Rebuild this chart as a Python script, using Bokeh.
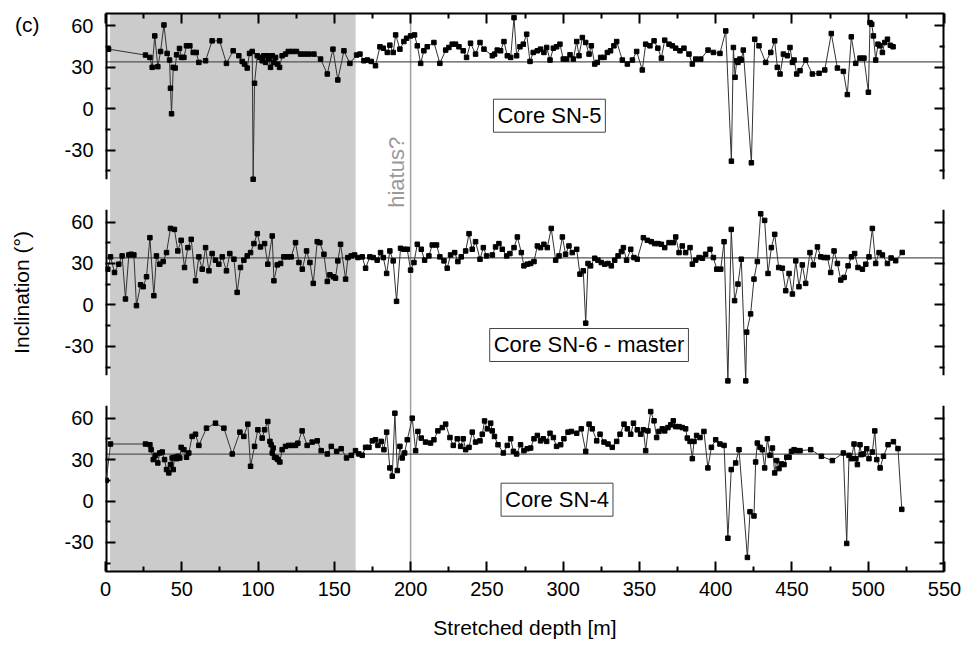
from bokeh.plotting import figure
from bokeh.models import (Range1d, LinearAxis, FixedTicker, BoxAnnotation, Span,
                          Label, CustomJSTickFormatter, CustomLabelingPolicy)
from bokeh.embed import file_html
from bokeh.resources import INLINE

# ---------------- data ----------------
depth_sn5 = [2.0, 26.2, 29.1, 30.6, 32.3, 34.3, 36.1, 38.3, 40.4, 42.0, 42.6, 43.3, 44.4, 45.7,
             46.6, 48.5, 49.8, 51.4, 53.1, 55.3, 57.5, 59.5, 61.2, 65.6, 69.9, 74.8, 79.3, 83.7,
             87.4, 89.6, 91.1, 92.9, 94.4, 96.2, 96.8, 97.7, 99.5, 101.2, 102.7, 103.8, 104.9,
             106.0, 107.1, 108.2, 109.3, 110.4, 111.5, 112.6, 114.1, 115.8, 118.0, 119.8, 122.4,
             125.2, 127.9, 130.5, 133.3, 136.6, 141.0, 145.4, 149.1, 152.3, 156.3, 160.2, 164.6,
             166.8, 169.4, 171.6, 174.2, 177.0, 179.9, 182.1, 184.7, 186.4, 188.6, 190.2, 193.0,
             195.6, 197.4, 200.0, 202.6, 204.4, 206.6, 208.7, 210.9, 215.3, 219.2, 223.0, 225.1,
             227.3, 229.5, 231.7, 234.5, 236.7, 239.3, 242.6, 245.5, 248.1,
             253.6, 255.1, 256.8, 259.0, 261.2, 263.4, 265.6, 267.8, 269.5, 271.7, 273.9, 276.1,
             278.3, 280.4, 283.1, 285.2, 287.4, 289.2, 291.4, 293.6, 295.7, 297.9, 300.1, 302.3,
             304.5, 306.7, 308.9, 310.4, 312.6, 314.8, 317.0, 318.5, 320.7, 322.4, 324.6, 326.8,
             329.0, 331.1, 333.3, 335.1, 338.8, 342.1, 345.4, 348.2, 351.9, 354.1, 356.9, 359.6,
             362.1, 364.4, 366.6, 369.4, 371.6, 373.8, 376.6, 379.2, 382.5, 384.7, 386.9, 390.2,
             395.0, 398.5, 402.8, 406.6, 410.3, 411.6, 412.7, 413.8, 414.6, 415.9, 416.8, 418.1,
             423.4, 425.6, 428.4, 432.8, 436.1, 438.7, 440.4, 442.2, 444.4, 447.0, 448.7, 450.3,
             451.4, 453.1, 455.3, 459.0, 463.4, 467.8, 471.5, 475.8, 479.8, 483.7, 486.3, 488.9,
             491.8, 494.6, 497.2, 500.1, 501.2, 502.3, 503.4, 504.9, 506.4, 507.7, 509.3, 510.8,
             512.6, 514.5, 516.3]
incl_sn5 = [43.2, 38.9, 37.2, 30.0, 52.8, 30.5, 41.5, 60.7, 40.1, 35.3, 14.9, -3.6, 30.0, 29.5,
            39.1, 43.7, 37.2, 37.2, 45.6, 45.6, 40.8, 40.8, 33.6, 34.8, 49.2, 49.2, 32.9, 42.0,
            38.4, 34.3, 32.4, 29.5, 40.1, 41.5, -51.0, 18.5, 38.4, 37.2, 34.8, 38.4, 33.6,
            38.4, 36.0, 30.0, 38.4, 33.6, 37.2, 32.4, 30.0, 38.4, 39.6, 41.5, 41.5,
            41.5, 39.6, 39.6, 39.6, 39.6, 36.0, 25.2, 43.2, 20.9, 42.0, 32.9, 38.9,
            39.6, 34.8, 35.3, 34.3, 31.2, 44.9, 43.9, 40.8, 46.1, 40.8, 53.5, 43.2,
            48.7, 51.1, 52.8, 53.5, 45.6, 32.9, 42.0, 44.9, 48.0, 32.9, 42.5, 44.4,
            46.8, 46.8, 44.9, 42.0, 37.2, 47.5, 39.6, 48.0, 43.2,
            38.4, 39.6, 42.5, 42.0, 48.7, 38.4, 37.2, 66.0, 38.4, 44.9, 46.8, 54.0,
            34.3, 40.8, 42.0, 43.2, 40.8, 44.4, 35.3, 43.9, 44.9, 46.8, 36.0, 36.0,
            39.1, 36.0, 48.7, 38.4, 51.6, 48.0, 39.6, 45.6, 32.4, 33.6, 37.2, 37.2,
            40.8, 42.0, 45.6, 48.7, 35.3, 32.4, 35.3, 41.5, 28.1, 46.8, 45.6, 49.2,
            43.9, 36.7, 49.7, 46.8, 45.6, 43.9, 42.0, 43.9, 39.6, 32.4, 36.0, 36.0,
            42.5, 40.8, 40.1, 56.4, -37.9, 44.4, 22.8, 34.8, 33.6, 36.0, 35.3, 42.5,
            -39.1, 50.4, 45.6, 33.6, 40.8, 49.2, 30.0, 25.2, 39.6, 38.4, 44.4, 33.6,
            35.3, 25.2, 27.6, 35.3, 25.2, 25.7, 28.1, 54.5, 29.5, 27.1, 10.3, 52.1,
            32.9, 36.7, 36.7, 12.0, 62.4, 61.2, 52.8, 35.3, 46.8, 45.6, 40.8, 48.0,
            50.4, 46.0, 44.9]

depth_sn6 = [1.5, 3.3, 5.9, 8.7, 10.9, 13.1, 15.3, 16.8, 18.6, 20.3, 23.0, 24.7, 26.9, 29.1,
             31.7, 33.4, 35.6, 37.8, 40.0, 42.6, 45.2, 47.4, 49.6, 51.8, 54.0, 56.2, 59.0, 61.2,
             63.4, 65.6, 67.8, 69.9, 72.1, 74.3, 76.5, 79.3, 81.5, 84.2, 86.3, 88.5, 90.7, 92.9,
             95.1, 97.3, 99.5, 101.6, 104.3, 106.4, 109.3, 110.4, 112.6, 114.8, 116.9, 119.1,
             121.7, 124.6, 126.8, 129.0, 131.8, 134.0, 136.2, 138.8, 140.5, 143.2, 145.4, 147.1,
             149.3, 150.8, 152.3, 154.1, 157.4, 158.9, 161.1, 163.3, 165.5, 168.3, 170.5, 173.3,
             175.5, 178.1, 180.3, 182.1, 184.3, 186.4, 188.6, 190.8, 193.4, 195.6, 197.8, 200.0,
             202.2, 204.4, 207.0, 209.2, 212.0, 214.2, 217.0, 219.2, 221.9, 224.0, 226.2, 228.9,
             231.0, 233.2, 236.1, 238.3, 240.4, 242.6, 245.5, 247.7, 249.8,
             253.6, 255.7, 257.9, 260.1, 263.0, 265.1, 267.8, 270.0, 272.6, 274.3, 276.5, 278.7,
             280.9, 283.1, 285.2, 287.4, 289.6, 292.2, 295.1, 297.3, 299.5, 301.6, 303.8, 306.0,
             308.9, 311.0, 313.2, 314.8, 316.3, 318.0, 320.7, 322.8, 325.0, 327.2, 329.4, 331.6,
             333.8, 336.0, 338.2, 339.5, 341.6, 344.3, 346.4, 348.6, 352.6, 355.2, 357.8, 360.0,
             362.2, 364.4, 366.6, 369.4, 372.2, 373.8, 376.0, 378.1, 380.3, 383.2, 384.7, 386.9,
             389.1, 391.3, 393.4, 396.3, 398.5, 400.7, 403.3, 405.5, 408.0, 410.2, 412.4, 414.6,
             416.8, 419.7, 420.3, 422.9, 425.1, 427.3, 429.5, 432.1, 434.3, 436.5, 438.7, 441.3,
             443.7, 445.9, 448.1, 450.3, 452.5, 454.6, 456.8, 459.0, 461.8, 464.0, 466.7, 468.9,
             471.0, 473.2, 475.4, 477.6, 479.8, 482.0, 484.2, 486.8, 489.0, 491.1, 493.3, 496.2,
             498.4, 500.5, 502.7, 504.9, 507.1, 509.3, 512.6, 515.0, 518.0, 522.3]
incl_sn6 = [25.9, 34.8, 23.5, 29.5, 35.5, 4.3, 36.2, 36.7, 36.2, -0.5, 14.6, 13.2, 20.4, 48.7,
            6.7, 35.5, 29.5, 31.4, 37.9, 55.4, 54.7, 39.1, 46.8, 27.1, 41.5, 47.5, 17.5, 34.8,
            25.9, 41.5, 24.7, 37.2, 32.4, 29.5, 34.8, 24.7, 37.2, 33.1, 9.1, 27.1, 32.4, 35.5,
            37.9, 44.4, 51.6, 42.0, 44.4, 29.5, 49.9, 17.5, 29.0, 30.0, 34.8, 34.8,
            34.8, 45.1, 30.7, 25.9, 39.1, 30.7, 15.6, 45.8, 45.1, 36.7, 17.0, 21.8,
            20.4, 19.4, 31.9, 43.9, 18.7, 34.3, 35.5, 36.2, 34.3, 34.8, 26.6, 34.8,
            34.3, 32.4, 37.9, 34.3, 22.8, 39.1, 31.9, 2.6, 41.0, 40.3, 40.3, 25.2,
            30.7, 43.9, 40.3, 32.4, 35.5, 43.4, 43.4, 34.8, 31.9, 26.6, 36.2, 37.9,
            31.4, 34.8, 39.1, 51.6, 40.3, 45.8, 33.1, 41.5, 35.5,
            36.2, 42.0, 44.4, 40.3, 35.5, 37.2, 41.5, 49.2, 37.9, 28.3, 29.5, 30.0,
            31.4, 42.7, 41.5, 43.9, 41.5, 55.4, 32.4, 35.5, 49.2, 36.7, 42.7, 37.9,
            40.3, 22.3, 24.7, -13.2, 30.0, 28.3, 33.8, 32.4, 30.7, 29.5, 30.0, 28.3,
            32.4, 35.5, 38.6, 41.5, 32.4, 40.3, 34.3, 33.1, 48.7, 46.8, 45.8, 44.4,
            44.4, 43.9, 41.5, 45.1, 45.1, 49.2, 37.9, 42.7, 37.9, 41.5, 29.5, 32.4,
            34.3, 33.8, 36.7, 40.3, 34.3, 25.9, 25.9, 45.8, -55.0, 54.7, 3.1, 15.1,
            33.1, -55.0, -19.7, -6.5, 18.7, 31.4, 66.0, 61.2, 22.8, 41.5, 51.1, 27.1,
            26.6, 10.3, 22.8, 7.9, 31.9, 13.2, 29.0, 15.6, 37.9, 29.0, 42.0, 34.8,
            34.3, 34.3, 23.5, 39.1, 30.0, 18.0, 19.9, 28.3, 34.8, 37.2, 27.1, 25.9,
            29.5, 34.8, 55.4, 30.0, 37.9, 36.2, 30.0, 34.0, 32.0, 38.0]

depth_sn4 = [0.5, 3.3, 26.2, 29.1, 29.9, 31.3, 32.8, 34.3, 35.6, 37.2, 38.7, 40.0, 41.5, 42.6,
             43.7, 44.4, 45.2, 46.6, 47.4, 48.7, 49.6, 51.4, 53.1, 54.6, 56.8, 59.0, 61.2, 66.2,
             72.1, 77.6, 83.1, 88.1, 90.7, 93.3, 95.1, 97.7, 99.9, 102.7, 104.3, 106.4, 107.8,
             108.6, 109.3, 109.9, 110.8, 112.1, 113.0, 114.3, 115.8, 118.0, 120.2, 122.4, 124.6,
             126.1, 128.9, 132.2, 135.5, 138.8, 141.4, 145.4, 148.0, 151.5, 154.5, 158.0, 161.1,
             163.9, 166.1, 168.3, 170.5, 172.7, 174.9, 177.0, 178.6, 180.8, 182.5, 184.3, 186.4,
             188.0, 189.7, 191.3, 193.0, 194.5, 196.1, 197.8, 201.1, 203.3, 204.8, 207.0, 209.8,
             213.1, 215.3, 217.9, 220.8, 223.0, 225.8, 228.0, 230.6, 232.8, 234.5, 236.1, 238.3,
             240.4, 242.6, 245.5, 247.0, 248.5, 250.3, 252.5,
             253.5, 255.0, 257.3, 260.8, 263.4, 265.6, 267.4, 269.5, 272.1, 274.3, 276.5, 278.7,
             280.9, 283.1, 285.2, 287.0, 289.2, 291.4, 293.6, 295.7, 298.4, 300.5, 303.2, 305.4,
             308.9, 311.9, 314.8, 317.0, 319.1, 322.0, 324.2, 326.8, 329.4, 332.2, 335.1, 337.3,
             339.9, 342.1, 344.3, 346.1, 348.6, 350.8, 352.6, 354.1, 355.6, 357.4, 359.6, 361.3,
             362.8, 365.0, 366.6, 368.7, 370.5, 372.2, 373.8, 376.0, 378.1, 380.3, 381.4, 383.2,
             384.7, 385.8, 387.5, 389.7, 392.3, 394.9, 397.2, 400.0, 402.8, 405.5, 408.0, 410.2,
             413.1, 415.3, 420.8, 422.5, 425.1, 426.2, 427.3, 429.1, 430.6, 432.1, 433.9, 435.6,
             437.2, 438.7, 440.0, 441.5, 443.1, 444.8, 446.6, 448.1, 449.7, 451.4, 453.1, 455.3,
             462.3, 469.3, 476.5, 483.7, 485.9, 487.4, 489.0, 490.7, 491.8, 492.9, 494.6, 495.5,
             496.9, 499.0, 500.5, 502.7, 504.3, 505.6, 507.8, 510.0, 513.0, 516.5, 519.5, 522.0]
incl_sn4 = [15.0, 41.3, 41.3, 40.8, 37.2, 30.0, 33.1, 27.6, 34.8, 35.5, 30.0, 22.8, 20.4, 26.4,
            31.2, 22.8, 31.7, 30.7, 32.4, 31.2, 38.9, 37.2, 31.7, 34.8, 46.8, 48.4, 40.3, 52.8,
            56.4, 52.8, 34.1, 49.9, 46.8, 55.7, 25.2, 39.6, 51.6, 45.6, 51.6, 57.6, 43.2,
            40.8, 34.8, 38.4, 31.7, 31.2, 30.0, 28.3, 37.2, 39.6, 40.3, 40.3, 40.3,
            41.9, 50.8, 40.3, 42.7, 43.6, 36.5, 34.1, 39.6, 36.0, 37.9, 31.2, 33.1,
            36.5, 34.1, 33.1, 38.9, 38.9, 43.6, 44.4, 40.3, 43.2, 37.2, 49.9, 24.0,
            18.0, 63.6, 22.1, 39.6, 31.2, 34.8, 44.4, 60.0, 36.5, 50.4, 45.6, 42.7,
            42.0, 44.4, 50.8, 53.2, 55.7, 46.0, 40.3, 45.1, 39.6, 45.1, 37.2, 38.9,
            49.9, 42.7, 43.6, 48.4, 58.0, 52.3, 56.4,
            50.8, 46.8, 40.8, 34.8, 40.3, 45.1, 36.0, 34.1, 40.8, 36.5, 37.9, 38.4,
            45.1, 47.5, 43.6, 45.1, 43.2, 49.1, 46.0, 39.6, 40.8, 45.1, 49.9, 50.4,
            49.1, 52.3, 36.0, 55.7, 52.3, 43.6, 48.4, 42.7, 41.3, 38.9, 43.2, 48.4,
            55.7, 52.3, 48.4, 56.4, 51.6, 48.4, 51.6, 36.5, 50.8, 64.8, 58.1, 46.0,
            50.4, 52.3, 50.8, 53.2, 55.2, 58.1, 53.9, 53.9, 53.2, 52.3, 45.6, 43.2,
            30.7, 43.2, 47.5, 46.0, 50.4, 24.0, 38.9, 44.4, 41.3, 40.3, -26.9, 22.8,
            27.6, 37.2, -40.8, -7.7, -10.8, 28.3, 42.0, 38.9, 37.2, 24.0, 45.1, 33.1,
            38.4, 20.4, 29.3, 23.5, 26.9, 26.4, 31.7, 31.7, 36.0, 37.2, 36.5, 36.5,
            37.2, 32.4, 29.3, 34.8, -30.7, 33.1, 30.7, 41.3, 30.7, 26.4, 40.8, 33.6,
            34.1, 37.9, 30.7, 35.5, 50.8, 30.0, 24.0, 32.4, 40.8, 43.0, 38.0, -6.0]

cores = ["Core SN-5", "Core SN-6 - master", "Core SN-4"]
depths = [depth_sn5, depth_sn6, depth_sn4]
incls = [incl_sn5, incl_sn6, incl_sn4]
core_label_depth = [291, 317, 296]
core_label_incl = [-5, -29, 1]

x_major = list(range(0, 551, 50))
x_minor = list(range(25, 551, 50))
y_major = [-30, 0, 30, 60]
y_minor = [-45, -15, 15, 45]
reference_incl = 34
shade_from, shade_to = 3, 164
hiatus_depth = 200
panel_tag = "(c)"

# ---------------- layout of stacked panels ----------------
X_LO, X_HI = 0, 550
Y_LO, Y_HI = -51, 69
PITCH = 142
NP = 3
FULL_LO = Y_HI - (NP - 1) * PITCH - (Y_HI - Y_LO)
FONT = "Liberation Sans"

p = figure(width=964, height=647, x_range=Range1d(X_LO, X_HI), y_range=Range1d(FULL_LO, Y_HI),
           output_backend="svg", toolbar_location=None,
           min_border_left=105, min_border_right=20, min_border_top=13, min_border_bottom=76)
p.outline_line_color = None
p.background_fill_color = "white"
p.border_fill_color = "white"
p.xgrid.visible = False
p.ygrid.visible = False

for i in range(NP):
    p.extra_y_ranges[f"p{i}"] = Range1d(FULL_LO + i * PITCH, Y_HI + i * PITCH)

# background elements
p.add_layout(BoxAnnotation(left=shade_from, right=shade_to, fill_color="#cbcbcb", fill_alpha=1.0,
                           line_color=None, level="underlay"))
p.add_layout(Span(location=hiatus_depth, dimension="height", line_color="#a0a0a0",
                  line_width=1.5, level="underlay"))
for i in range(NP):
    p.add_layout(Span(location=reference_incl, dimension="width", y_range_name=f"p{i}",
                      line_color="#555555", line_width=1.2, level="underlay"))

# vertical frame lines of each panel (left and right edges, interrupted between panels)
for i in range(NP):
    p.segment(x0=[X_LO, X_HI], y0=[Y_LO, Y_LO], x1=[X_LO, X_HI], y1=[Y_HI, Y_HI],
              y_range_name=f"p{i}", line_color="black", line_width=4)

for i in range(NP):
    p.line(depths[i], incls[i], y_range_name=f"p{i}", line_color="#333333", line_width=1)
    p.scatter(depths[i], incls[i], y_range_name=f"p{i}", marker="square", size=4.5,
              fill_color="black", line_color="black")
    p.add_layout(Label(x=core_label_depth[i], y=core_label_incl[i], y_range_name=f"p{i}",
                       text=cores[i], text_align="center", text_baseline="middle",
                       text_font=FONT, text_font_size="22px", text_color="black",
                       background_fill_color="white", border_line_color="#444444",
                       border_line_width=1, padding=4))

p.add_layout(Label(x=hiatus_depth, y=-46, x_offset=-14, text="hiatus?", angle=90,
                   angle_units="deg", text_align="center", text_baseline="middle",
                   text_font=FONT, text_font_size="22px", text_color="#9a9a9a"))

# ---------------- axes ----------------
xt = FixedTicker(ticks=x_major, minor_ticks=x_minor)
yt_major = [v - i * PITCH for i in range(NP) for v in y_major]
yt_minor = [v - i * PITCH for i in range(NP) for v in y_minor]
yt = FixedTicker(ticks=yt_major, minor_ticks=yt_minor)
yfmt = CustomJSTickFormatter(code=f"let v = tick; while (v < {Y_LO}) {{ v += {PITCH}; }} return v.toFixed(0);")
no_labels = CustomLabelingPolicy(code="for (const i of indices) indices.unset(i)")


def style(ax, labels=True, line=True):
    ax.axis_line_width = 2
    ax.axis_line_color = "black" if line else None
    ax.major_tick_in = 10
    ax.major_tick_out = 0
    ax.minor_tick_in = 5
    ax.minor_tick_out = 0
    ax.major_tick_line_width = 2
    ax.minor_tick_line_width = 2
    ax.major_tick_line_color = "black"
    ax.minor_tick_line_color = "black"
    if labels:
        ax.major_label_text_font = FONT
        ax.major_label_text_font_size = "20px"
        ax.major_label_text_color = "black"
        ax.axis_label_text_font = FONT
        ax.axis_label_text_font_size = "21px"
        ax.axis_label_text_font_style = "normal"
        ax.axis_label_text_color = "black"
    else:
        ax.major_label_text_font_size = "1px"
        ax.major_label_standoff = 0
        ax.major_label_policy = no_labels


xa = p.xaxis[0]
xa.ticker = xt
xa.axis_label = "Stretched depth [m]"
style(xa)
xa.major_label_standoff = 10
xa.axis_label_standoff = 17

ya = p.yaxis[0]
ya.ticker = yt
ya.formatter = yfmt
ya.axis_label = "Inclination (°)"
style(ya, line=False)
ya.major_label_standoff = 12
ya.axis_label_standoff = 29

# outer left axis that only carries the panel tag "(c)"
tag_axis = LinearAxis(ticker=FixedTicker(ticks=[61], minor_ticks=[]),
                      formatter=CustomJSTickFormatter(code=f"return '{panel_tag}';"))
tag_axis.axis_line_color = None
tag_axis.major_tick_line_color = None
tag_axis.minor_tick_line_color = None
tag_axis.major_tick_in = 0
tag_axis.major_tick_out = 0
tag_axis.minor_tick_in = 0
tag_axis.minor_tick_out = 0
tag_axis.major_label_text_font = FONT
tag_axis.major_label_text_font_size = "21px"
tag_axis.major_label_text_color = "black"
tag_axis.major_label_standoff = -33
p.add_layout(tag_axis, "left")

top = LinearAxis(ticker=xt)
style(top, labels=False)
p.add_layout(top, "above")

right = LinearAxis(ticker=yt)
style(right, labels=False, line=False)
p.add_layout(right, "right")

open("out.html", "w").write(file_html(p, INLINE))
